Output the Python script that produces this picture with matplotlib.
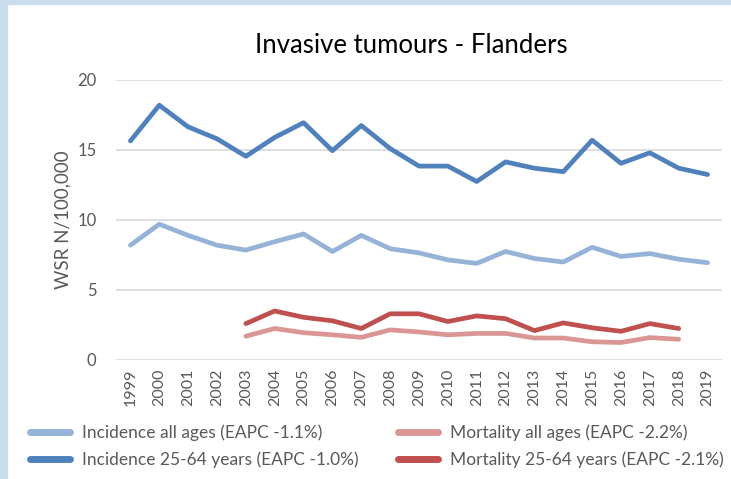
import matplotlib.pyplot as plt
from matplotlib.patches import Rectangle

years = list(range(1999, 2020))
mort_years = list(range(2003, 2019))

inc_all = [8.2, 9.7, 8.9, 8.2, 7.85, 8.45, 9.0, 7.75, 8.9, 7.95, 7.65,
           7.15, 6.9, 7.75, 7.25, 7.0, 8.05, 7.4, 7.6, 7.2, 6.95]
inc_2564 = [15.65, 18.2, 16.65, 15.8, 14.55, 15.9, 16.95, 14.95, 16.75, 15.1, 13.85,
            13.85, 12.75, 14.15, 13.7, 13.45, 15.7, 14.05, 14.8, 13.7, 13.25]
mort_all = [1.7, 2.25, 1.95, 1.8, 1.62, 2.15, 2.0, 1.8, 1.9, 1.9,
            1.57, 1.57, 1.3, 1.25, 1.6, 1.48]
mort_2564 = [2.6, 3.5, 3.05, 2.8, 2.25, 3.3, 3.3, 2.75, 3.15, 2.95,
             2.1, 2.65, 2.3, 2.05, 2.6, 2.25]

labels = ['Incidence all ages (EAPC -1.1%)', 'Incidence 25-64 years (EAPC -1.0%)',
          'Mortality all ages (EAPC -2.2%)', 'Mortality 25-64 years (EAPC -2.1%)']
colors = ['#95B3D7', '#4F81BD', '#D99694', '#C0504D']

plt.rcParams['font.family'] = ['Lato', 'DejaVu Sans']

fig = plt.figure(figsize=(7.31, 4.79), dpi=100)
fig.patches.append(Rectangle((0, 0), 7 / 731, 1, transform=fig.transFigure,
                             color='#C8DEEC', zorder=-1))
fig.patches.append(Rectangle((0, 1 - 4 / 479), 1, 4 / 479, transform=fig.transFigure,
                             color='#C8DEEC', zorder=-1))

ax = fig.add_axes([116 / 731, 119 / 479, 606 / 731, 280 / 479])
lw = 3.4
l1, = ax.plot(years, inc_all, color=colors[0], lw=lw, solid_capstyle='round')
l2, = ax.plot(years, inc_2564, color=colors[1], lw=lw, solid_capstyle='round')
l3, = ax.plot(mort_years, mort_all, color=colors[2], lw=lw, solid_capstyle='round')
l4, = ax.plot(mort_years, mort_2564, color=colors[3], lw=lw, solid_capstyle='round')

ax.set_xlim(1998.5, 2019.5)
ax.set_ylim(0, 20)
ax.set_yticks([0, 5, 10, 15, 20])
ax.set_xticks(years)
ax.set_xticklabels([str(y) for y in years], rotation=90)
ax.grid(axis='y', color='#D9D9D9', lw=1.2)
ax.set_axisbelow(True)
for s in ax.spines.values():
    s.set_visible(False)
ax.tick_params(axis='y', length=0, pad=14, labelsize=12, labelcolor='#595959')
ax.tick_params(axis='x', length=0, pad=6, labelsize=11.5, labelcolor='#595959')
ax.set_ylabel('WSR N/100,000', fontsize=13.5, color='#595959', labelpad=4)

fig.text(0.563, 0.905, 'Invasive tumours - Flanders', ha='center', va='center',
         fontsize=18.5, color='black')

leg_kw = dict(loc='center left', frameon=False, fontsize=12.5, labelcolor='#595959',
              handlelength=2.3, handletextpad=0.7, labelspacing=0.62,
              borderpad=0, borderaxespad=0)
for lines, labs, x0 in [((l1, l2), labels[:2], 30), ((l3, l4), labels[2:], 398)]:
    leg = fig.legend(lines, labs, bbox_to_anchor=(x0 / 731, 1 - 446.5 / 479), **leg_kw)
    for h in leg.get_lines():
        h.set_linewidth(5)
        h.set_solid_capstyle('round')

fig.savefig('out.png', dpi=100)
